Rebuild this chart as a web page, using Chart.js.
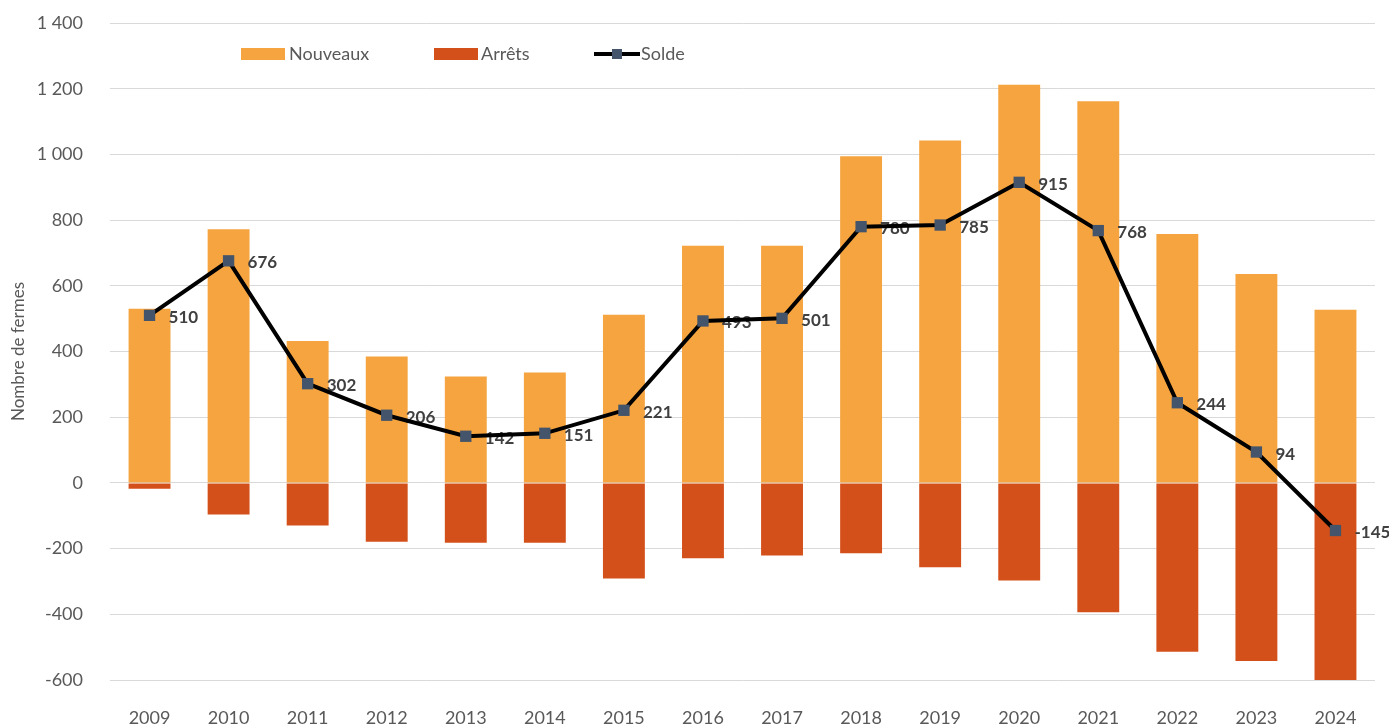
<!DOCTYPE html>
<html>
<head>
<meta charset="utf-8">
<script src="https://cdn.jsdelivr.net/npm/chart.js@4/dist/chart.umd.min.js"></script>
<style>
  body { margin: 0; background: #fff; }
  #wrap { width: 1389px; height: 727px; }
</style>
</head>
<body>
<div id="wrap"><canvas id="fermes-chart" width="1389" height="727"></canvas></div>
<script>
// valeurs
var years = ['2009', '2010', '2011', '2012', '2013', '2014', '2015', '2016',
             '2017', '2018', '2019', '2020', '2021', '2022', '2023', '2024']
var nouveaux = [530, 772, 432, 385, 324, 336, 512, 722, 722, 994, 1042, 1212, 1162, 758, 636, 527]
var arrets = [-18, -96, -130, -179, -182, -182, -291, -229, -221, -214, -257, -297, -394, -514, -542, -672]
var solde = [510, 676, 302, 206, 142, 151, 221, 493, 501, 780, 785, 915, 768, 244, 94, -145]

var FONT = 'Lato, "Open Sans", sans-serif'
var ORANGE = '#F5A43F'
var RED = '#D4501A'
var MARKER = '#44546A'

function formatTick(v) {
    var s = Math.abs(v).toString().replace(/\B(?=(\d{3})+(?!\d))/g, ' ')
    return (v < 0 ? '-' : '') + s
}

// étiquettes du solde, dessinées sous la ligne
var soldeLabels = {
    id: 'soldeLabels',
    beforeDatasetDraw: function(chart, args) {
        if (args.index !== 2) return
        var ctx = chart.ctx
        var meta = chart.getDatasetMeta(2)
        ctx.save()
        ctx.font = 'bold 17px ' + FONT
        ctx.fillStyle = '#404040'
        ctx.textAlign = 'left'
        ctx.textBaseline = 'middle'
        meta.data.forEach(function(pt, i) {
            ctx.fillText(String(solde[i]), pt.x + 19, pt.y + 2)
        })
        ctx.restore()
    }
}

// légende placée dans la zone du graphique
var insideLegend = {
    id: 'insideLegend',
    afterDraw: function(chart) {
        var ctx = chart.ctx
        var y = 54
        ctx.save()
        ctx.font = '18px ' + FONT
        ctx.textBaseline = 'middle'
        ctx.textAlign = 'left'

        ctx.fillStyle = ORANGE
        ctx.fillRect(241, y - 6, 44, 12)
        ctx.fillStyle = '#595959'
        ctx.fillText(chart.data.datasets[0].label, 289, y)

        ctx.fillStyle = RED
        ctx.fillRect(434, y - 6, 44, 12)
        ctx.fillStyle = '#595959'
        ctx.fillText(chart.data.datasets[1].label, 481, y)

        ctx.strokeStyle = '#000'
        ctx.lineWidth = 4
        ctx.beginPath()
        ctx.moveTo(594, y)
        ctx.lineTo(640, y)
        ctx.stroke()
        ctx.fillStyle = MARKER
        ctx.fillRect(612, y - 5, 10, 10)
        ctx.fillStyle = '#595959'
        ctx.fillText(chart.data.datasets[2].label, 641, y)
        ctx.restore()
    }
}

function drawChart() {
    const ctx = document.getElementById('fermes-chart')
    new Chart(ctx, {
        type: 'bar',
        data: {
            labels: years,
            datasets: [{
                label: 'Nouveaux',
                data: nouveaux,
                backgroundColor: ORANGE,
                stack: 'barres',
                order: 2,
                categoryPercentage: 1,
                barPercentage: 0.53
            }, {
                label: 'Arrêts',
                data: arrets,
                backgroundColor: RED,
                stack: 'barres',
                order: 2,
                categoryPercentage: 1,
                barPercentage: 0.53
            }, {
                type: 'line',
                label: 'Solde',
                data: solde,
                stack: 'solde',
                order: 1,
                borderColor: '#000',
                borderWidth: 4,
                pointStyle: 'rect',
                pointRadius: 8,
                pointBackgroundColor: MARKER,
                pointBorderColor: MARKER,
                pointBorderWidth: 0,
                tension: 0
            }]
        },
        options: {
            responsive: false,
            animation: false,
            layout: {
                autoPadding: false,
                padding: { top: 23, right: 14, bottom: 0, left: 0 }
            },
            plugins: {
                legend: { display: false },
                tooltip: { enabled: false }
            },
            scales: {
                x: {
                    stacked: true,
                    grid: { display: false },
                    border: { display: false },
                    ticks: {
                        color: '#595959',
                        font: { family: FONT, size: 18 },
                        padding: 19
                    },
                    afterFit: function(scale) { scale.height = 47 }
                },
                y: {
                    stacked: true,
                    min: -600,
                    max: 1400,
                    grid: { color: '#D9D9D9', lineWidth: 1, drawTicks: true, tickLength: 24, tickColor: 'rgba(0,0,0,0)' },
                    border: { display: false },
                    ticks: {
                        stepSize: 200,
                        color: '#595959',
                        font: { family: FONT, size: 18 },
                        padding: 3,
                        callback: function(v) { return formatTick(v) }
                    },
                    title: {
                        display: true,
                        text: 'Nombre de fermes',
                        color: '#595959',
                        font: { family: FONT, size: 17 },
                        padding: { top: 8, bottom: 0 }
                    },
                    afterFit: function(scale) { scale.width = 110 }
                }
            }
        },
        plugins: [soldeLabels, insideLegend]
    })
}

drawChart()
</script>
</body>
</html>
